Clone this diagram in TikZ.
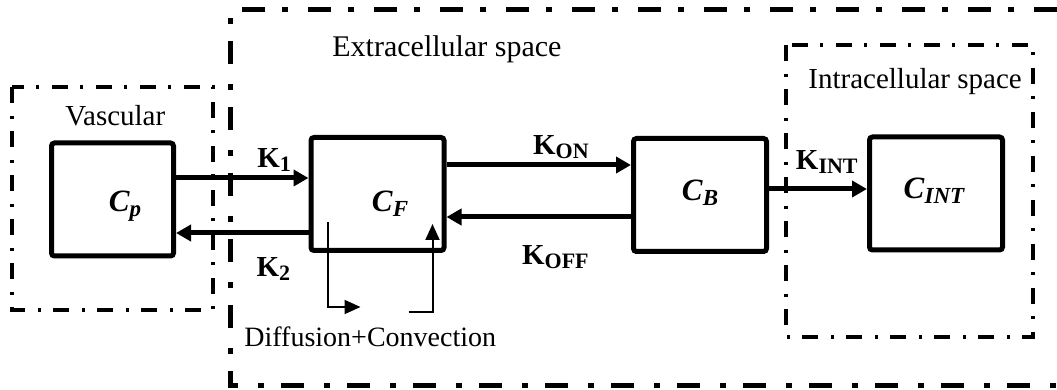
\documentclass[tikz,border=0pt]{standalone}
\usepackage{fontspec}
\setmainfont{Liberation Serif}
\usetikzlibrary{arrows.meta}
\newcommand{\rate}[1]{\textbf{K}\raisebox{-2pt}{\fontsize{11}{13}\selectfont\bfseries #1}}
\newcommand{\conc}[1]{\textbf{\textit{C}}\raisebox{-2.5pt}{\fontsize{11.5}{13}\selectfont\bfseries\itshape #1}}

\begin{document}
\begin{tikzpicture}[
    x=0.5pt, y=-0.5pt,
    box/.style={draw, line width=2.5pt, rounded corners=1.5pt, minimum width=66.5pt, minimum height=56.5pt},
    arr/.style={-{Triangle[length=7.5pt, width=8pt]}, line width=2.5pt},
    flow/.style={-{Triangle[length=8pt, width=7pt]}, line width=1pt},
    klab/.style={font=\fontsize{14.5}{17}\selectfont, inner sep=1pt},
    clab/.style={font=\fontsize{15.5}{18}\selectfont, inner sep=1pt},
    region/.style={font=\fontsize{14.5}{17}\selectfont, inner sep=0pt},
    zone/.style={line width=1.7pt, dash pattern=on 8pt off 6.5pt on 1.5pt off 6pt},
    bigzone/.style={line width=2.5pt, dash pattern=on 11.5pt off 10pt on 3pt off 8.5pt},
]
\useasboundingbox (0,0) rectangle (1057,390);

% compartments
\draw[bigzone] (1057,10) -- (230,10) -- (230,386) -- (1057,386);
\draw[zone] (12,87) rectangle (213,310);
\draw[zone] (786,45) rectangle (1033,337);
\node[region, anchor=base west, font=\fontsize{15}{18}\selectfont] (extra) at (332,57) {Extracellular space};
\node[region, anchor=base west] (vasc) at (65,126) {Vascular};
\node[region, anchor=base west] (intra) at (808,89) {Intracellular space};

% concentrations
\node[box, minimum width=61pt] (cp) at (112.5,199.5) {};
\node[box] (cf) at (377.5,194) {};
\node[box] (cb) at (700,195) {};
\node[box] (cint) at (936,193.5) {};
\node[clab] (cplab) at (125,206) {\conc{p}};
\node[clab] (cflab) at (390,204) {\conc{F}};
\node[clab] (cblab) at (700,193) {\conc{B}};
\node[clab] (cintlab) at (934,191) {\conc{INT}};

% exchange
\draw[arr] (cp.east |- 0,178) -- node[klab, above=1pt, pos=0.74] {\rate{1}} (cf.west |- 0,178);
\draw[arr] (cf.west |- 0,233) -- node[klab, below=10pt, pos=0.265] {\rate{2}} (cp.east |- 0,233);
\draw[arr] (cf.east |- 0,165) -- node[klab, above=1pt, pos=0.62] {\rate{ON}} (cb.west |- 0,165);
\draw[arr] (cb.west |- 0,217) -- node[klab, below=12pt, pos=0.41] {\rate{OFF}} (cf.east |- 0,217);
\draw[arr] (cb.east |- 0,189) -- node[klab, above=5.5pt, pos=0.59] {\rate{INT}} (cint.west |- 0,189);

% transport inside the free space
\draw[flow] (cf.south west) ++(19,-31) -- ++(0,85) -- ++(33,0);
\draw[flow] (cf.south east) ++(-38,59) -- ++(24,0) -- ++(0,-88);
\node[region, anchor=base west, font=\fontsize{14}{17}\selectfont] (difflab) at (244,347) {Diffusion+Convection};
\end{tikzpicture}
\end{document}
